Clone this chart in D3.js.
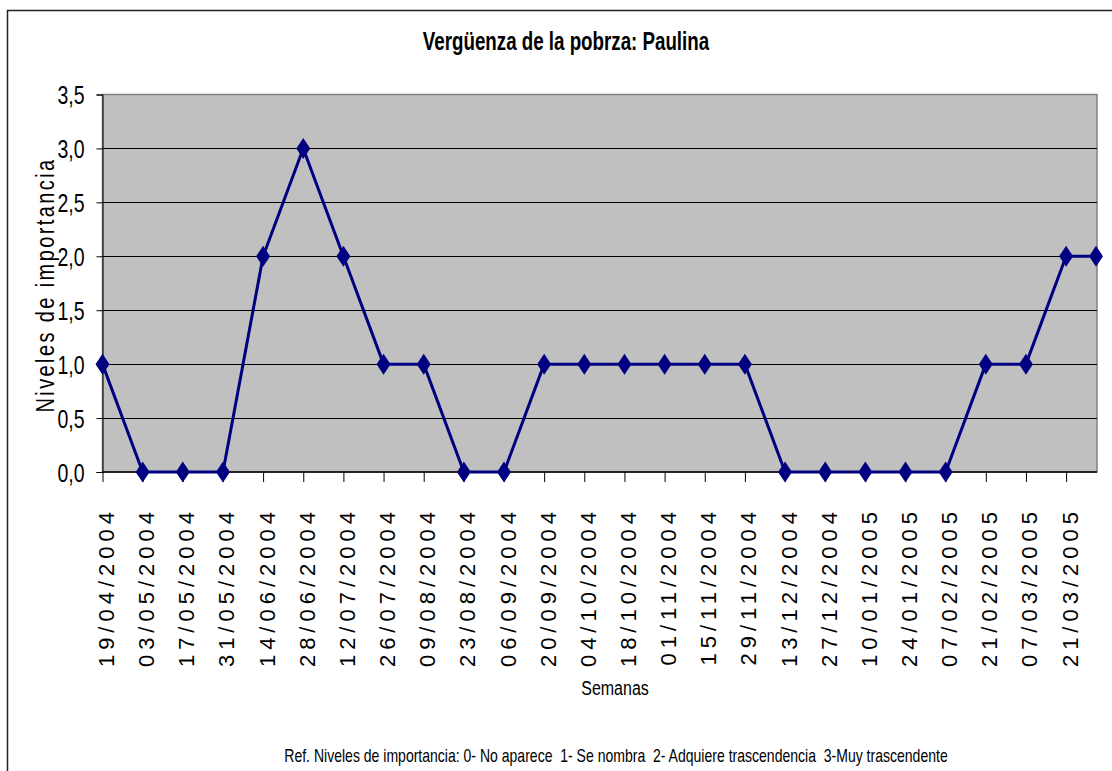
<!DOCTYPE html>
<html>
<head>
<meta charset="utf-8">
<script src="https://cdn.jsdelivr.net/npm/d3@7"></script>
<style>
  body { margin: 0; background: #fff; }
  svg { display: block; }
</style>
</head>
<body>
<svg id="chart"></svg>
<script>
(function () {

    // weekly dates (the last point has no label in the original)
    var semanas = ["19/04/2004", "03/05/2004", "17/05/2004", "31/05/2004", "14/06/2004",
        "28/06/2004", "12/07/2004", "26/07/2004", "09/08/2004", "23/08/2004",
        "06/09/2004", "20/09/2004", "04/10/2004", "18/10/2004", "01/11/2004",
        "15/11/2004", "29/11/2004", "13/12/2004", "27/12/2004", "10/01/2005",
        "24/01/2005", "07/02/2005", "21/02/2005", "07/03/2005", "21/03/2005", ""];
    var niveles = [1, 0, 0, 0, 2, 3, 2, 1, 1, 0, 0, 1, 1, 1, 1, 1, 1, 0, 0, 0, 0, 0, 1, 1, 2, 2];
    var yTicks = [0, 0.5, 1, 1.5, 2, 2.5, 3, 3.5];

    var title = "Vergüenza de la pobrza: Paulina";
    var yTitle = "Niveles de importancia";
    var xTitle = "Semanas";
    var footer = "Ref. Niveles de importancia: 0- No aparece  1- Se nombra  2- Adquiere trascendencia  3-Muy trascendente";

    var width = 1112;
    var height = 771;
    var plotLeft = 102.5;
    var plotRight = 1097;
    var plotTop = 94.5;
    var plotBottom = 472;
    var step = 40.15;
    var font = "'Liberation Sans', Arial, sans-serif";
    var navy = "#000080";

    var svg = d3.select("#chart")
        .attr("width", width)
        .attr("height", height);

    // no narrow font installed, so squeeze text horizontally
    function narrowText(x, y, sx, rotate) {
        return "translate(" + x + "," + y + ")" + (rotate ? " rotate(-90)" : "") + " scale(" + sx + ",1)";
    }

    // chart frame
    svg.append("rect")
        .attr("x", 7.5)
        .attr("y", 10.5)
        .attr("width", width + 10)
        .attr("height", height + 10)
        .attr("fill", "#fff")
        .attr("stroke", "#222")
        .attr("stroke-width", 1.5);

    var xScale = d3.scalePoint()
        .domain(d3.range(niveles.length))
        .range([plotLeft, plotLeft + step * (niveles.length - 1)]);
    // excel squeezes the final point onto the plot edge
    function xPos(i) {
        return Math.min(xScale(i), plotRight - 1);
    }
    var yScale = d3.scaleLinear()
        .domain([0, 3.5])
        .range([plotBottom, plotTop]);

    // plot area
    svg.append("rect")
        .attr("x", plotLeft)
        .attr("y", plotTop)
        .attr("width", plotRight - plotLeft)
        .attr("height", plotBottom - plotTop)
        .attr("fill", "#c0c0c0")
        .attr("stroke", "#808080")
        .attr("stroke-width", 1.5);

    // gridlines
    svg.append("g")
        .selectAll("line")
        .data(yTicks.filter(t => t > 0 && t < 3.5))
        .enter()
        .append("line")
        .attr("x1", plotLeft)
        .attr("x2", plotRight)
        .attr("y1", d => Math.round(yScale(d)) + 0.5)
        .attr("y2", d => Math.round(yScale(d)) + 0.5)
        .attr("stroke", "#000")
        .attr("stroke-width", 1);

    // y axis
    var yAxis = d3.axisLeft(yScale)
        .tickValues(yTicks)
        .tickSize(6)
        .tickPadding(12)
        .tickFormat(d => d3.format(".1f")(d).replace(".", ","));
    var yAxisG = svg.append("g")
        .attr("transform", "translate(" + plotLeft + ",0)")
        .call(yAxis);
    yAxisG.select(".domain").attr("stroke", "#000");
    yAxisG.selectAll(".tick line").attr("stroke", "#000");
    yAxisG.selectAll("text")
        .attr("fill", "#000")
        .attr("x", 0)
        .attr("transform", narrowText(-18, 1, 0.78))
        .style("font-family", font)
        .style("font-size", "25px");

    // x axis
    var xAxis = d3.axisBottom(xScale)
        .tickValues(d3.range(semanas.length).filter(i => semanas[i] !== ""))
        .tickSize(10)
        .tickFormat(i => semanas[i]);
    var xAxisG = svg.append("g")
        .attr("transform", "translate(0," + plotBottom + ")")
        .call(xAxis);
    xAxisG.select(".domain").remove();
    xAxisG.selectAll(".tick line").attr("stroke", "#000");
    xAxisG.append("line")
        .attr("x1", plotLeft)
        .attr("x2", plotRight)
        .attr("stroke", "#000")
        .attr("stroke-width", 1.5);
    xAxisG.selectAll(".tick text")
        .attr("fill", "#000")
        .attr("text-anchor", "end")
        .attr("transform", "translate(11,35) rotate(-90)")
        .attr("x", 0)
        .attr("y", 0)
        .attr("dy", 0)
        .style("font-family", font)
        .style("font-size", "22px")
        .style("letter-spacing", "5px");

    // series line
    var line = d3.line()
        .x((d, i) => xPos(i))
        .y(d => yScale(d));
    svg.append("path")
        .attr("d", line(niveles))
        .attr("fill", "none")
        .attr("stroke", navy)
        .attr("stroke-width", 3)
        .attr("stroke-linejoin", "round");

    // diamond markers
    var diamond = "M0,-10.5L7,0L0,10.5L-7,0Z";
    svg.append("g")
        .selectAll("path")
        .data(niveles)
        .enter()
        .append("path")
        .attr("d", diamond)
        .attr("transform", (d, i) => "translate(" + xPos(i) + "," + yScale(d) + ")")
        .attr("fill", navy);

    // titles
    svg.append("text")
        .attr("transform", narrowText(566, 50, 0.75))
        .attr("text-anchor", "middle")
        .style("font-family", font)
        .style("font-weight", "bold")
        .style("font-size", "25px")
        .text(title);

    svg.append("text")
        .attr("transform", narrowText(54, 285, 0.8, true))
        .attr("text-anchor", "middle")
        .style("font-family", font)
        .style("font-size", "25px")
        .style("letter-spacing", "3px")
        .text(yTitle);

    svg.append("text")
        .attr("transform", narrowText(615, 695, 0.82))
        .attr("text-anchor", "middle")
        .style("font-family", font)
        .style("font-size", "19.5px")
        .text(xTitle);

    svg.append("text")
        .attr("transform", narrowText(616, 762, 0.78))
        .attr("text-anchor", "middle")
        .style("font-family", font)
        .style("font-size", "18px")
        .style("white-space", "pre")
        .text(footer);

})();
</script>
</body>
</html>
